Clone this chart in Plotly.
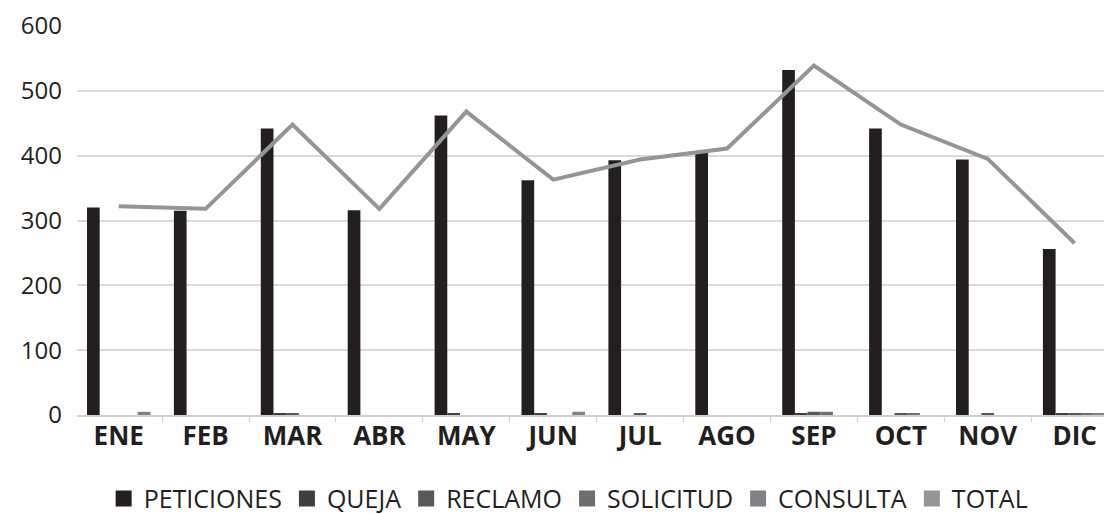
import plotly.graph_objects as go

# datos
meses = ['ENE', 'FEB', 'MAR', 'ABR', 'MAY', 'JUN', 'JUL', 'AGO', 'SEP', 'OCT', 'NOV', 'DIC']
peticiones = [320, 315, 442, 316, 462, 362, 393, 405, 532, 442, 394, 256]
queja = [0, 0, 3, 0, 2, 2, 0, 0, 2, 0, 0, 3]
reclamo = [0, 0, 3, 0, 0, 0, 3, 0, 5, 3, 3, 3]
solicitud = [0, 0, 0, 0, 0, 0, 0, 0, 5, 3, 0, 3]
consulta = [5, 0, 0, 0, 0, 5, 0, 0, 0, 0, 0, 3]
total = [322, 318, 448, 318, 468, 363, 394, 411, 539, 448, 395, 265]

series = ['PETICIONES', 'QUEJA', 'RECLAMO', 'SOLICITUD', 'CONSULTA', 'TOTAL']
colores = ['#231f20', '#3f3f40', '#58585a', '#6d6e70', '#808285', '#939598']
valores = [peticiones, queja, reclamo, solicitud, consulta]

fig = go.Figure()

for nombre, vals, col in zip(series[:5], valores, colores[:5]):
    fig.add_trace(go.Bar(name=nombre, x=meses, y=vals, marker_color=col,
                         marker_line_width=0, showlegend=False))

fig.add_trace(go.Scatter(name='TOTAL', x=meses, y=total, mode='lines',
                         line=dict(color='#939598', width=4), showlegend=False))

# entradas de leyenda con cuadros
for nombre, col in zip(series, colores):
    fig.add_trace(go.Scatter(name=nombre, x=[None], y=[None], mode='markers',
                             marker=dict(symbol='square', size=16, color=col)))

# la pagina tiene 8px de margen en el body
fig.update_layout(
    width=1104, height=506,
    margin=dict(l=69, r=0, t=18, b=99),
    plot_bgcolor='white', paper_bgcolor='white',
    barmode='group', bargap=0.27, bargroupgap=0,
    font=dict(family='Open Sans', color='#231f20'),
    legend=dict(orientation='h', x=0.475, xanchor='center',
                yref='container', y=0.03, yanchor='middle',
                font=dict(size=25, color='#231f20'), itemwidth=30,
                tracegroupgap=0),
)
fig.update_xaxes(range=[-0.48, 11.43], showline=True, linecolor='#cfcfcf', linewidth=2,
                 tickson='boundaries', ticks='outside', ticklen=5, tickcolor='#cfcfcf',
                 tickfont=dict(size=26, weight='bold', color='#231f20'),
                 ticklabelstandoff=-3, showgrid=False, automargin=False)
fig.update_yaxes(range=[0, 600], dtick=100, showgrid=True, gridcolor='#d9d9d9',
                 gridwidth=1.5, zeroline=False, ticks='', automargin=False,
                 tickfont=dict(size=24, color='#231f20'), ticklabelstandoff=14)

fig.write_html("out.html")
